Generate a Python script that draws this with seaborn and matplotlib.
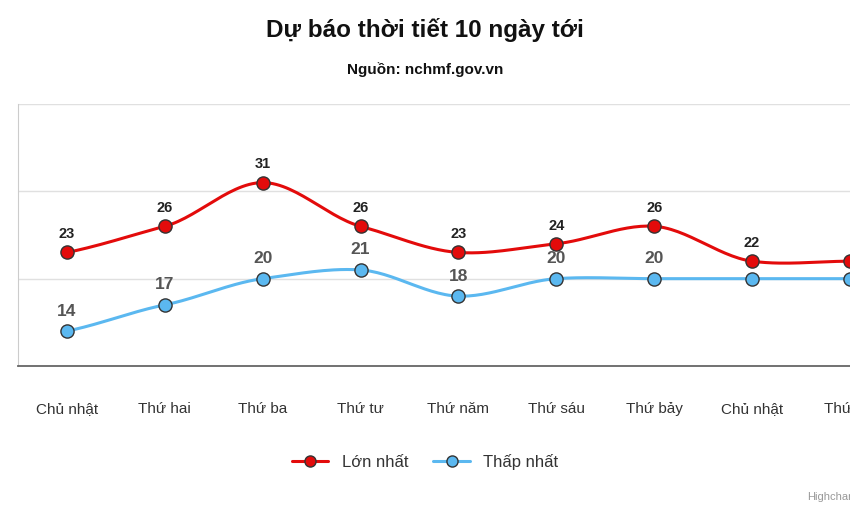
import numpy as np
import pandas as pd
import seaborn as sns
import matplotlib.pyplot as plt
from matplotlib.lines import Line2D

days = ['Chủ nhật', 'Thứ hai', 'Thứ ba', 'Thứ tư', 'Thứ năm', 'Thứ sáu',
        'Thứ bảy', 'Chủ nhật', 'Thứ hai']
t_max = [23, 26, 31, 26, 23, 24, 26, 22, 22]
t_min = [14, 17, 20, 21, 18, 20, 20, 20, 20]

RED = '#e30b0b'
BLUE = '#5bb8f0'

sns.set_style('white')
plt.rcParams['font.family'] = ['Liberation Sans', 'DejaVu Sans']


def spline(y, n=30):
    # hermite smoothing, similar to highcharts spline
    y = np.asarray(y, float)
    x = np.arange(len(y))
    m = np.gradient(y) * 0.75
    xs, ys = [], []
    for i in range(len(y) - 1):
        t = np.linspace(0, 1, n)
        h00 = 2*t**3 - 3*t**2 + 1
        h10 = t**3 - 2*t**2 + t
        h01 = -2*t**3 + 3*t**2
        h11 = t**3 - t**2
        xs.append(x[i] + t)
        ys.append(h00*y[i] + h10*m[i] + h01*y[i+1] + h11*m[i+1])
    return np.concatenate(xs), np.concatenate(ys)


fig = plt.figure(figsize=(8.5, 5.12), dpi=100)
ax = fig.add_axes([18/850, (512-366)/512, 1 - 18/850, (366-104)/512])

df = pd.DataFrame({'x': np.arange(len(days)), 'max': t_max, 'min': t_min})
for col, c in [('max', RED), ('min', BLUE)]:
    sx, sy = spline(df[col])
    ax.plot(sx, sy, color=c, lw=2.2, zorder=2)
    sns.scatterplot(data=df, x='x', y=col, ax=ax, color=c, s=90,
                    edgecolor='#333333', linewidth=1, zorder=3, clip_on=True)

for i, v in enumerate(t_max[:8]):
    ax.annotate(str(v), (i, v), xytext=(0, 8), textcoords='offset points',
                ha='center', va='bottom', fontsize=10.5, fontweight='bold', color='#222222')
for i, v in enumerate(t_min[:7]):
    ax.annotate(str(v), (i, v), xytext=(0, 9), textcoords='offset points',
                ha='center', va='bottom', fontsize=12.5, fontweight='bold', color='#555555')

ax.set_xlim(-0.5, 7.7)
ax.set_ylim(10, 40)
ax.set_yticks([10, 20, 30, 40])
ax.set_yticklabels([])
ax.tick_params(axis='y', length=0)
ax.grid(axis='y', color='#e0e0e0', lw=1)
ax.set_xticks(range(len(days)))
ax.set_xticklabels(days, fontsize=11, color='#333333')
ax.tick_params(axis='x', length=0, pad=26)
ax.set_xlabel('')
ax.set_ylabel('')
for s in ['top', 'right']:
    ax.spines[s].set_visible(False)
ax.spines['left'].set_color('#cccccc')
ax.spines['bottom'].set_color('#666666')
ax.spines['bottom'].set_linewidth(1.3)

fig.text(0.5, 1 - 30/512, 'Dự báo thời tiết 10 ngày tới', ha='center', va='center',
         fontsize=17.5, fontweight='bold', color='#111111')
fig.text(0.5, 1 - 70/512, 'Nguồn: nchmf.gov.vn', ha='center', va='center',
         fontsize=11, fontweight='bold', color='#111111')

handles = [Line2D([], [], color=RED, lw=2.2, marker='o', markersize=8,
                  markeredgecolor='#333333'),
           Line2D([], [], color=BLUE, lw=2.2, marker='o', markersize=8,
                  markeredgecolor='#333333')]
fig.legend(handles, ['Lớn nhất', 'Thấp nhất'], loc='center', ncol=2,
           bbox_to_anchor=(0.5, 1 - 462/512), frameon=False, fontsize=12,
           handlelength=2.2, columnspacing=1.5, labelcolor='#333333')
fig.text(0.95, 1 - 497/512, 'Highcharts.com', fontsize=8, color='#999999', va='center')

fig.savefig('out.png', dpi=100)
